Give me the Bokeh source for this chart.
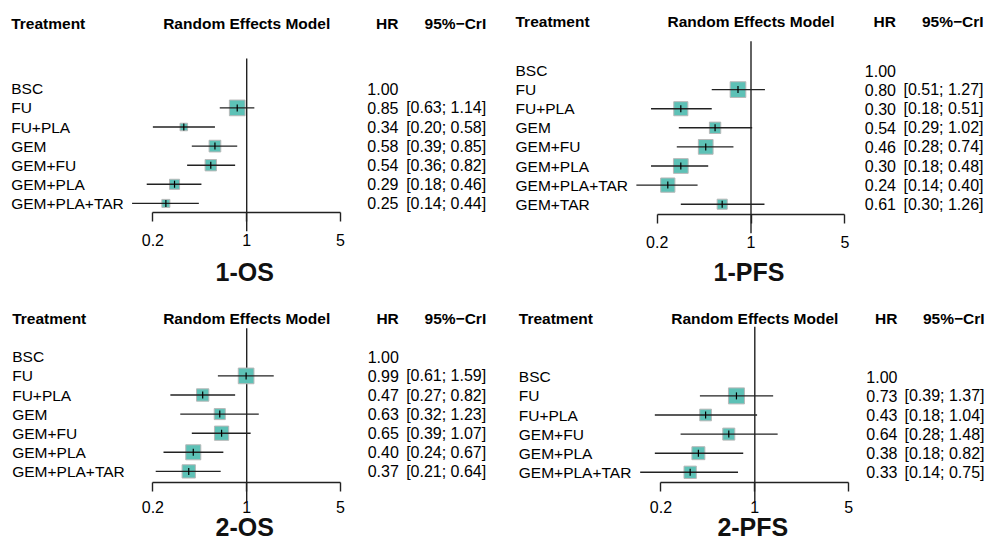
import math
from bokeh.plotting import figure
from bokeh.models import Range1d, LogScale, LinearAxis, FixedTicker, CustomJSTickFormatter
from bokeh.core.properties import value
from bokeh.embed import file_html
from bokeh.resources import INLINE

# ---------------- data ----------------
ticks = [0.2, 1, 5]

os1_title = "1-OS"
os1_treat = ["BSC", "FU", "FU+PLA", "GEM", "GEM+FU", "GEM+PLA", "GEM+PLA+TAR"]
os1_hr = [1.00, 0.85, 0.34, 0.58, 0.54, 0.29, 0.25]
os1_lo = [None, 0.63, 0.20, 0.39, 0.36, 0.18, 0.14]
os1_hi = [None, 1.14, 0.58, 0.85, 0.82, 0.46, 0.44]
os1_weight = [None, 0.98, 0.47, 0.73, 0.71, 0.63, 0.50]

pfs1_title = "1-PFS"
pfs1_treat = ["BSC", "FU", "FU+PLA", "GEM", "GEM+FU", "GEM+PLA", "GEM+PLA+TAR", "GEM+TAR"]
pfs1_hr = [1.00, 0.80, 0.30, 0.54, 0.46, 0.30, 0.24, 0.61]
pfs1_lo = [None, 0.51, 0.18, 0.29, 0.28, 0.18, 0.14, 0.30]
pfs1_hi = [None, 1.27, 0.51, 1.02, 0.74, 0.48, 0.40, 1.26]
pfs1_weight = [None, 0.98, 0.88, 0.71, 0.92, 0.92, 0.89, 0.63]

os2_title = "2-OS"
os2_treat = ["BSC", "FU", "FU+PLA", "GEM", "GEM+FU", "GEM+PLA", "GEM+PLA+TAR"]
os2_hr = [1.00, 0.99, 0.47, 0.63, 0.65, 0.40, 0.37]
os2_lo = [None, 0.61, 0.27, 0.32, 0.39, 0.24, 0.21]
os2_hi = [None, 1.59, 0.82, 1.23, 1.07, 0.67, 0.64]
os2_weight = [None, 0.98, 0.77, 0.69, 0.89, 0.94, 0.83]

pfs2_title = "2-PFS"
pfs2_treat = ["BSC", "FU", "FU+PLA", "GEM+FU", "GEM+PLA", "GEM+PLA+TAR"]
pfs2_hr = [1.00, 0.73, 0.43, 0.64, 0.38, 0.33]
pfs2_lo = [None, 0.39, 0.18, 0.28, 0.18, 0.14]
pfs2_hi = [None, 1.37, 1.04, 1.48, 0.82, 0.75]
pfs2_weight = [None, 1.00, 0.73, 0.75, 0.81, 0.77]

# ---------------- layout (canvas pixel coordinates) ----------------
W, H = 985, 543
PX_PER_LN = 58.3
ROW_STEP = 19.1
MAX_SQ = 16

panels = [
    dict(key="os1", title=os1_title, treat=os1_treat, hr=os1_hr, lo=os1_lo, hi=os1_hi, w=os1_weight,
         tx=10.7, one=246.2, hr_r=398, ci_r=485.7, head_y=22.7, row0=88.3, axis_y=212.3, vtop=58,
         title_y=271, standoff=12),
    dict(key="pfs1", title=pfs1_title, treat=pfs1_treat, hr=pfs1_hr, lo=pfs1_lo, hi=pfs1_hi, w=pfs1_weight,
         tx=515, one=750.5, hr_r=895.5, ci_r=983, head_y=21, row0=70, axis_y=214.3, vtop=40.7,
         title_y=271, standoff=12),
    dict(key="os2", title=os2_title, treat=os2_treat, hr=os2_hr, lo=os2_lo, hi=os2_hi, w=os2_weight,
         tx=11.7, one=246.2, hr_r=398.3, ci_r=485.7, head_y=318, row0=356.3, axis_y=482, vtop=327.7,
         title_y=526, standoff=9),
    dict(key="pfs2", title=pfs2_title, treat=pfs2_treat, hr=pfs2_hr, lo=pfs2_lo, hi=pfs2_hi, w=pfs2_weight,
         tx=518.3, one=754.3, hr_r=897, ci_r=984, head_y=318, row0=376.3, axis_y=482, vtop=326.3,
         title_y=526, standoff=9),
]

FONT = value("Liberation Sans")
TEAL = "#5DC1B6"
LINE = "#222222"

p = figure(width=W, height=H, x_range=Range1d(0, W), y_range=Range1d(H, 0),
           x_axis_type=None, y_axis_type=None, toolbar_location=None, output_backend="svg",
           min_border=0, outline_line_color=None)

for pn in panels:
    key = pn["key"]
    p.extra_x_ranges[key] = Range1d(math.exp((0 - pn["one"]) / PX_PER_LN),
                                    math.exp((W - pn["one"]) / PX_PER_LN))
    p.extra_x_scales[key] = LogScale()

    n = len(pn["treat"])
    ys = [pn["row0"] + i * ROW_STEP for i in range(n)]

    # headers
    hy = pn["head_y"]
    p.text(x=[pn["tx"]], y=[hy], text=["Treatment"], text_font=FONT, text_font_size="15.5px",
           text_font_style="bold", text_baseline="middle", text_align="left")
    p.text(x=[1], y=[hy], text=["Random Effects Model"], text_font=FONT, text_font_size="15.5px",
           text_font_style="bold", text_baseline="middle", text_align="center", x_range_name=key)
    p.text(x=[pn["hr_r"]], y=[hy], text=["HR"], text_font=FONT, text_font_size="15.5px",
           text_font_style="bold", text_baseline="middle", text_align="right")
    p.text(x=[pn["ci_r"]], y=[hy], text=["95%\u2212CrI"], text_font=FONT, text_font_size="15.5px",
           text_font_style="bold", text_baseline="middle", text_align="right")

    # treatment labels
    p.text(x=[pn["tx"]] * n, y=ys, text=pn["treat"], text_font=FONT, text_font_size="15.5px",
           text_baseline="middle", text_align="left", text_color="black")

    # HR and CI text
    p.text(x=[pn["hr_r"]] * n, y=ys, text=["%.2f" % v for v in pn["hr"]], text_font=FONT,
           text_font_size="16px", text_baseline="middle", text_align="right", text_color="black")
    ci_idx = [i for i in range(n) if pn["lo"][i] is not None]
    p.text(x=[pn["ci_r"]] * len(ci_idx), y=[ys[i] for i in ci_idx],
           text=["[%.2f; %.2f]" % (pn["lo"][i], pn["hi"][i]) for i in ci_idx], text_font=FONT,
           text_font_size="16px", text_baseline="middle", text_align="right", text_color="black")

    # reference line at HR = 1
    p.segment(x0=[1], y0=[pn["vtop"]], x1=[1], y1=[pn["axis_y"] + 18.5], line_color=LINE,
              line_width=1.4, x_range_name=key)

    # squares, CI lines, point ticks
    sx = [pn["hr"][i] for i in ci_idx]
    sy = [ys[i] for i in ci_idx]
    p.scatter(x=sx, y=sy, marker="square", size=[MAX_SQ * pn["w"][i] for i in ci_idx],
              fill_color=TEAL, line_color="#B8B8B8", line_width=1, x_range_name=key)
    p.segment(x0=[pn["lo"][i] for i in ci_idx], y0=sy, x1=[pn["hi"][i] for i in ci_idx], y1=sy,
              line_color=LINE, line_width=1.4, x_range_name=key)
    p.scatter(x=sx, y=sy, marker="dash", angle=math.pi / 2, size=7, line_color="black",
              line_width=1.2, x_range_name=key)

    # axis
    ax = LinearAxis(x_range_name=key, fixed_location=pn["axis_y"], bounds=(ticks[0], ticks[-1]),
                    ticker=FixedTicker(ticks=ticks),
                    formatter=CustomJSTickFormatter(code="return String(tick)"))
    ax.major_tick_out = 9
    ax.major_tick_in = 0
    ax.minor_tick_out = 0
    ax.minor_tick_in = 0
    ax.major_label_standoff = pn["standoff"]
    ax.axis_line_color = LINE
    ax.axis_line_width = 1.4
    ax.major_tick_line_color = LINE
    ax.major_tick_line_width = 1.4
    ax.major_label_text_font = "Liberation Sans"
    ax.major_label_text_font_size = "16px"
    ax.major_label_text_color = "black"
    p.add_layout(ax, "below")

    # panel title
    p.text(x=[1], y=[pn["title_y"]], text=[pn["title"]], text_font=FONT, text_font_size="25px",
           text_font_style="bold", text_baseline="middle", text_align="center", x_offset=-2,
           text_color="#111111", x_range_name=key)

open("out.html", "w").write(file_html(p, INLINE))
